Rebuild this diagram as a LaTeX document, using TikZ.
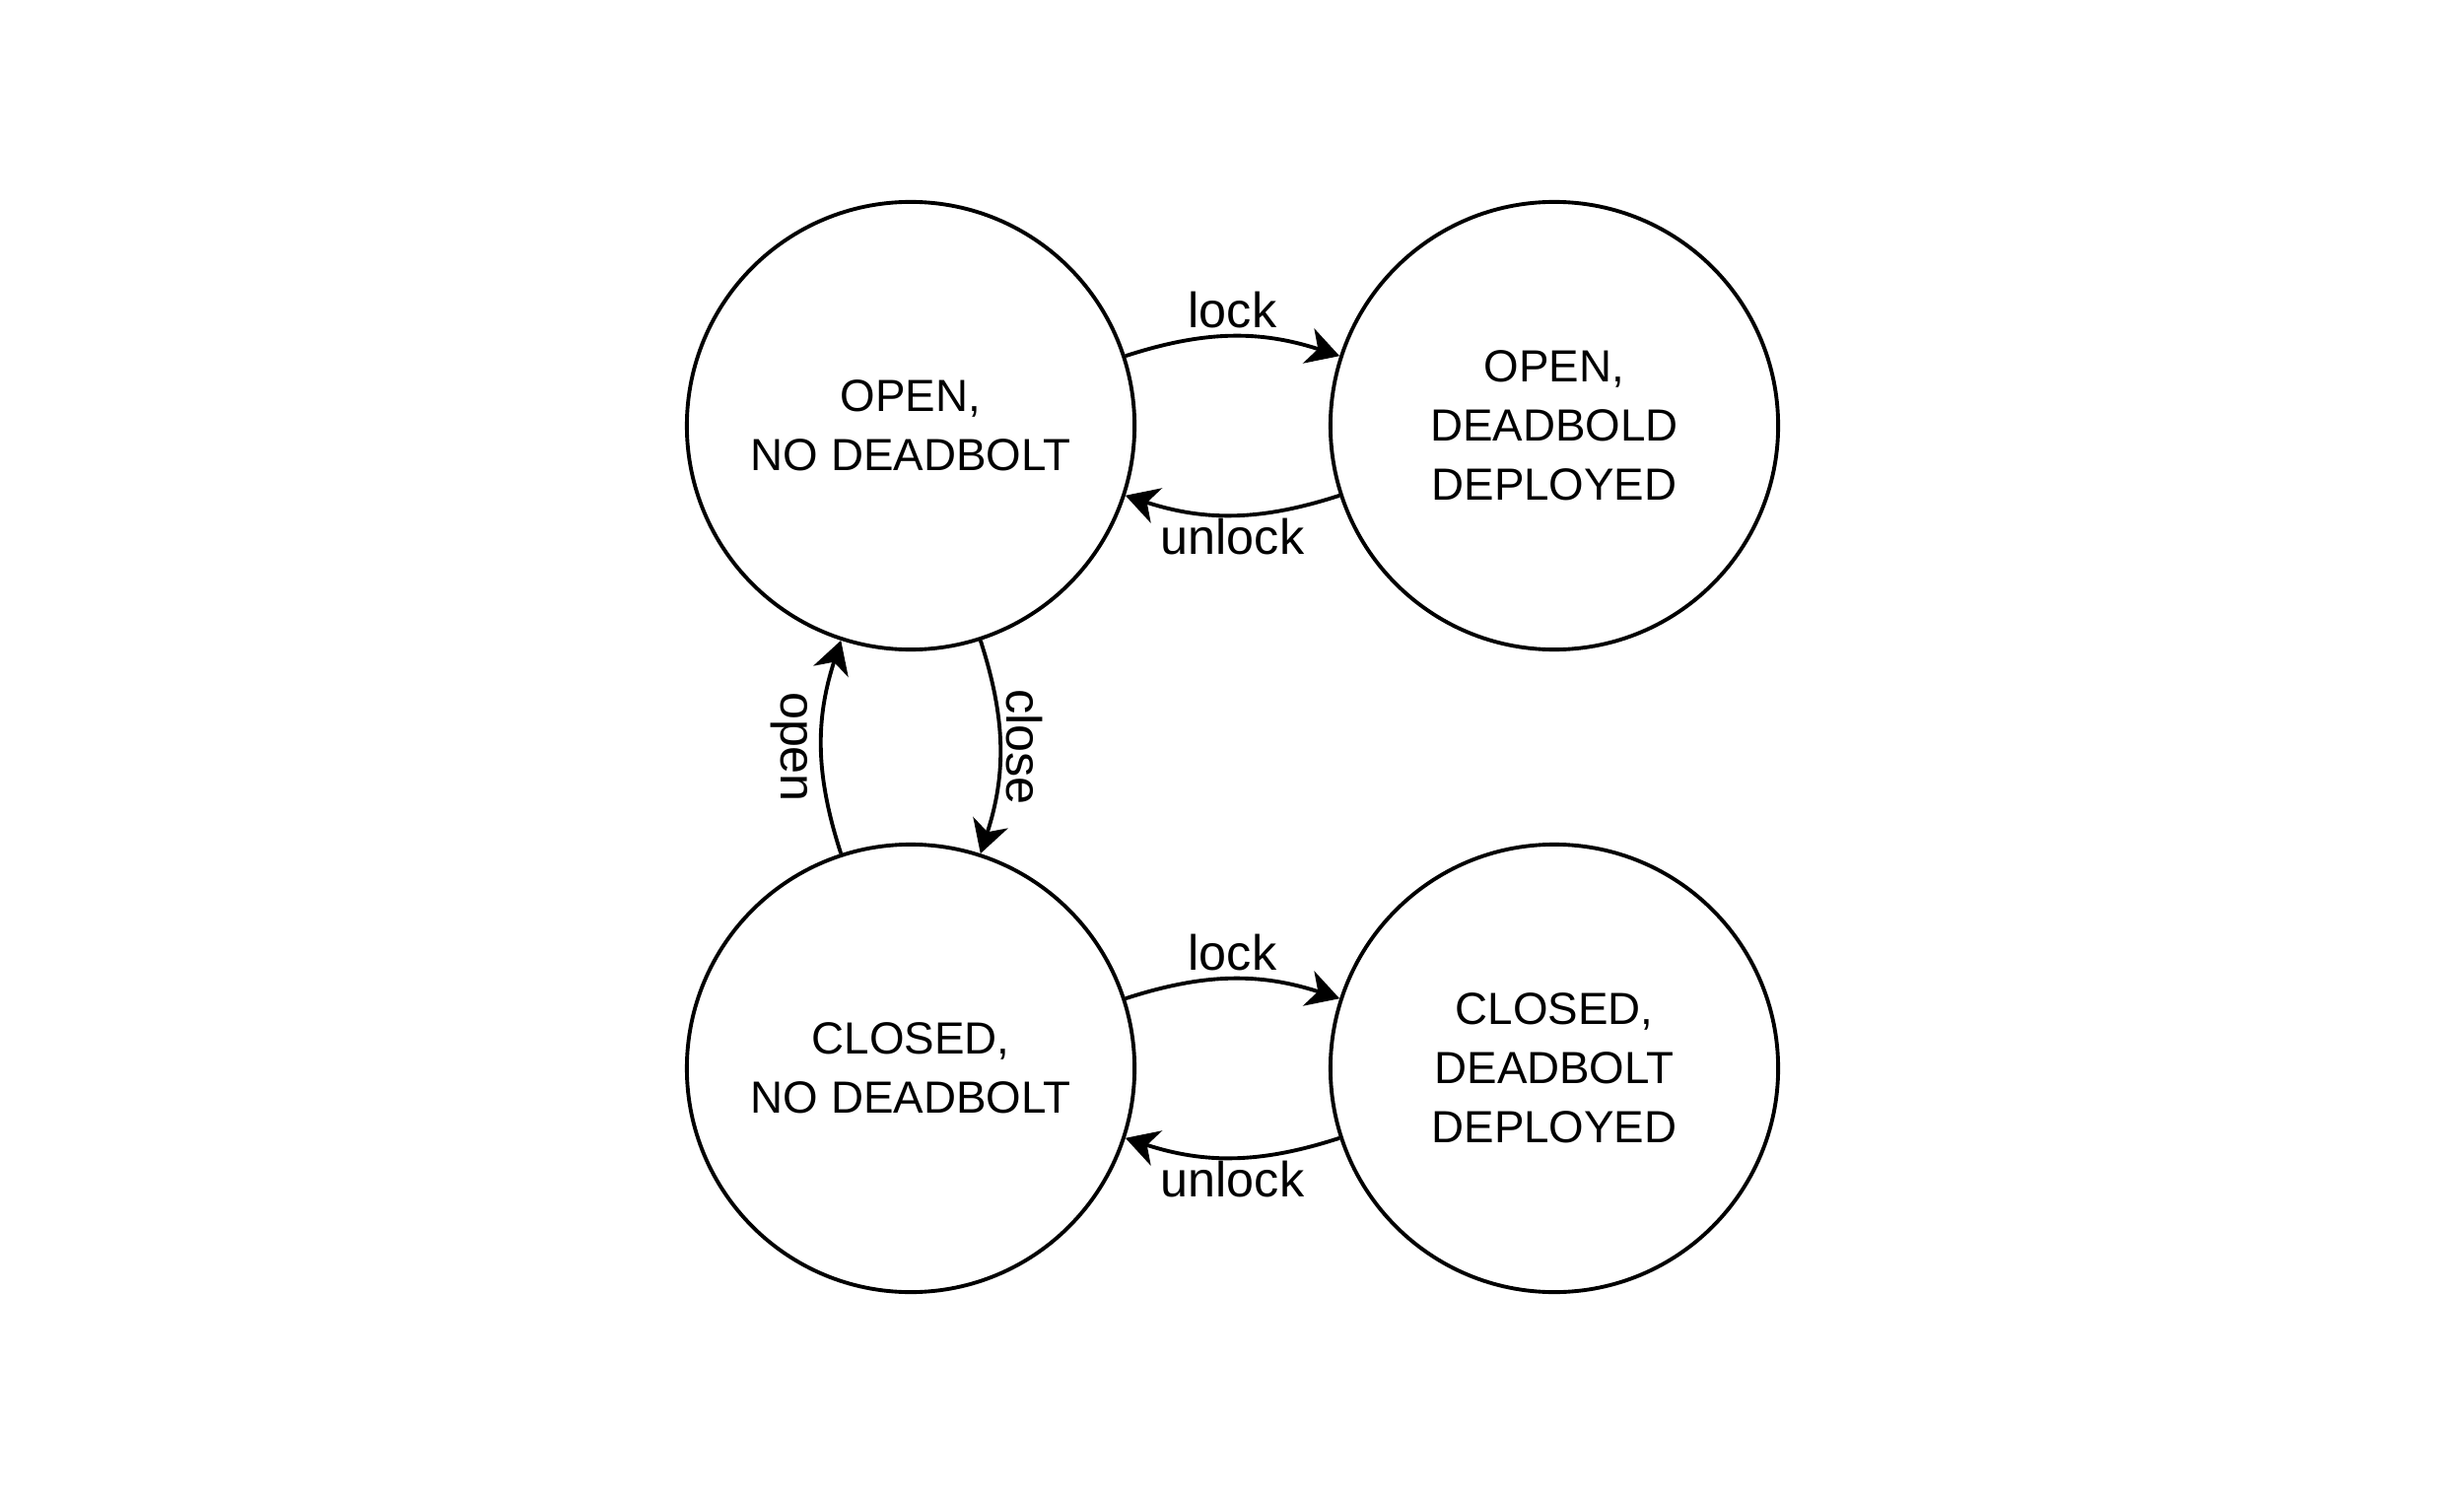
\documentclass[tikz,border=0pt]{standalone}
\usepackage{fontspec}
\setmainfont{Liberation Sans}
\usetikzlibrary{arrows.meta}
\tikzset{
  state/.style={draw=black, line width=1.1pt, circle, minimum size=4.54cm, inner sep=0pt,
    align=center, font=\fontsize{13pt}{17.07pt}\selectfont},
  trans/.style={draw=black, line width=1.1pt, -{Stealth[length=0.33cm, width=0.37cm, inset=0.1cm]}},
  lbl/.style={font=\fontsize{14.3pt}{17pt}\selectfont, inner sep=0pt}
}
\begin{document}
\begin{tikzpicture}[x=0.01cm, y=0.01cm]
  \fill[white] (0,0) rectangle (2500,1517);
  \useasboundingbox (0,0) rectangle (2500,1517);

  \node[state] (onb) at (924,1085) {OPEN,\\NO DEADBOLT};
  \node[state] (odd) at (1577,1085) {OPEN,\\DEADBOLD\\DEPLOYED};
  \node[state] (cnb) at (924,433) {CLOSED,\\NO DEADBOLT};
  \node[state] (cdd) at (1577,433) {CLOSED,\\DEADBOLT\\DEPLOYED};

  \draw[trans] (onb.18) to[bend left=18]
    node[lbl, midway, anchor=base, yshift=0.09cm] (l1) {lock} (odd.162);
  \draw[trans] (odd.198) to[bend left=18]
    node[lbl, midway, anchor=base, yshift=-0.40cm] (u1) {unlock} (onb.-18);

  \draw[trans] (cnb.18) to[bend left=18]
    node[lbl, midway, anchor=base, yshift=0.09cm] (l2) {lock} (cdd.162);
  \draw[trans] (cdd.198) to[bend left=18]
    node[lbl, midway, anchor=base, yshift=-0.40cm] (u2) {unlock} (cnb.-18);

  \draw[trans] (onb.-72) to[bend left=18]
    node[lbl, midway, xshift=0.07cm, rotate=-90, anchor=base] (cl) {close} (cnb.72);
  \draw[trans] (cnb.108) to[bend left=18]
    node[lbl, midway, xshift=-0.41cm, rotate=-90, anchor=base] (op) {open} (onb.-108);
\end{tikzpicture}
\end{document}
